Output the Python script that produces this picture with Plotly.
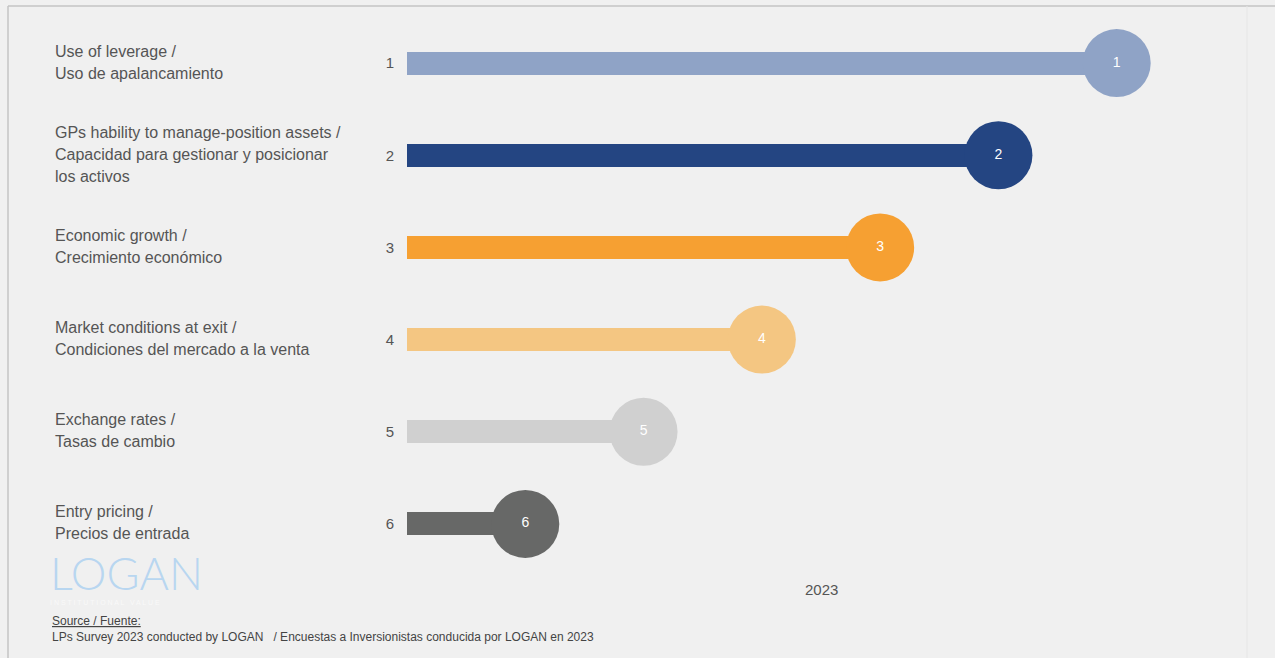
import plotly.graph_objects as go

# Survey results: ranking of value-creation drivers (LPs survey 2023)
factor_labels = [
    ["Use of leverage /", "Uso de apalancamiento"],
    ["GPs hability to manage-position assets /", "Capacidad para gestionar y posicionar", "los activos"],
    ["Economic growth /", "Crecimiento económico"],
    ["Market conditions at exit /", "Condiciones del mercado a la venta"],
    ["Exchange rates /", "Tasas de cambio"],
    ["Entry pricing /", "Precios de entrada"],
]
ranks = [1, 2, 3, 4, 5, 6]
scores = [6, 5, 4, 3, 2, 1]
bar_colors = ["#8fa3c6", "#244582", "#f6a032", "#f4c682", "#d0d0d0", "#676867"]
year_label = "2023"
source_title = "Source / Fuente:"
source_text = "LPs Survey 2023 conducted by LOGAN   / Encuestas a Inversionistas conducida por LOGAN en 2023"

BG = "#f0f0f0"
FONT = "Liberation Sans, Arial, Helvetica, sans-serif"
TEXT_COLOR = "#555555"

fig = go.Figure()

# Stems
fig.add_trace(go.Bar(
    x=scores, y=ranks, orientation="h", width=0.25,
    marker=dict(color=bar_colors, line=dict(width=0)),
    hoverinfo="skip", showlegend=False,
))

# Heads with the rank inside
fig.add_trace(go.Scatter(
    x=scores, y=ranks, mode="markers+text",
    marker=dict(size=68, color=bar_colors, line=dict(width=0)),
    text=[str(r) for r in ranks], textposition="middle center",
    textfont=dict(color="white", size=14, family=FONT),
    hoverinfo="skip", showlegend=False,
))

annotations = []
# Category labels (one annotation per line for exact line spacing)
LINE_H = 22
for r, lines in zip(ranks, factor_labels):
    n = len(lines)
    for i, line in enumerate(lines):
        annotations.append(dict(
            x=-0.4275, xref="paper", y=r, yref="y",
            xanchor="left", yanchor="middle",
            yshift=-(i - (n - 1) / 2) * LINE_H + 1,
            text=line, showarrow=False,
            font=dict(size=16, color=TEXT_COLOR, family=FONT),
        ))

# Series label
annotations.append(dict(
    x=0.5, xref="paper", y=-0.036, yref="paper",
    xanchor="center", yanchor="middle", text=year_label, showarrow=False,
    font=dict(size=15, color=TEXT_COLOR, family=FONT),
))

# Logo
annotations.append(dict(
    x=-0.434, xref="paper", y=-0.0054, yref="paper",
    xanchor="left", yanchor="middle", text="LOGAN", showarrow=False,
    font=dict(size=45, color="#b8d6f0", family="Lato, " + FONT, weight=300),
))
annotations.append(dict(
    x=-0.434, xref="paper", y=-0.058, yref="paper",
    xanchor="left", yanchor="middle",
    text="I N S T I T U T I O N A L   V A L U E", showarrow=False,
    font=dict(size=7, color="#f9f9f9", family=FONT),
))

# Source
annotations.append(dict(
    x=-0.4306, xref="paper", y=-0.0923, yref="paper",
    xanchor="left", yanchor="middle", text="<u>" + source_title + "</u>", showarrow=False,
    font=dict(size=12, color="#444444", family=FONT),
))
annotations.append(dict(
    x=-0.4306, xref="paper", y=-0.1212, yref="paper",
    xanchor="left", yanchor="middle", text=source_text, showarrow=False,
    font=dict(size=12, color="#444444", family=FONT),
))

shapes = [
    # frame lines
    dict(type="line", xref="paper", yref="paper", x0=-0.4819, x1=1.1, y0=1.0199, y1=1.0199,
         line=dict(color="#c4c4c4", width=1.5)),
    dict(type="line", xref="paper", yref="paper", x0=-0.4819, x1=-0.4819, y0=1.0199, y1=-0.2,
         line=dict(color="#c4c4c4", width=1.5)),
    dict(type="line", xref="paper", yref="paper", x0=1.0145, x1=1.0145, y0=1.0199, y1=-0.2,
         line=dict(color="#e6e6e6", width=1)),
]

fig.update_layout(
    width=1275, height=658,
    margin=dict(l=407, r=40, t=17, b=88),
    paper_bgcolor=BG, plot_bgcolor=BG,
    bargap=0,
    xaxis=dict(range=[0, 7], showgrid=False, zeroline=False, showticklabels=False,
               showline=False, fixedrange=True),
    yaxis=dict(range=[6.5, 0.5], showgrid=False, zeroline=False, showline=False,
               tickmode="array", tickvals=ranks, ticktext=[str(r) for r in ranks],
               ticks="", ticklabelstandoff=12,
               tickfont=dict(size=15, color=TEXT_COLOR, family=FONT), fixedrange=True),
    annotations=annotations,
    shapes=shapes,
    font=dict(family=FONT),
)

fig.write_html("out.html", config=dict(displayModeBar=False))
